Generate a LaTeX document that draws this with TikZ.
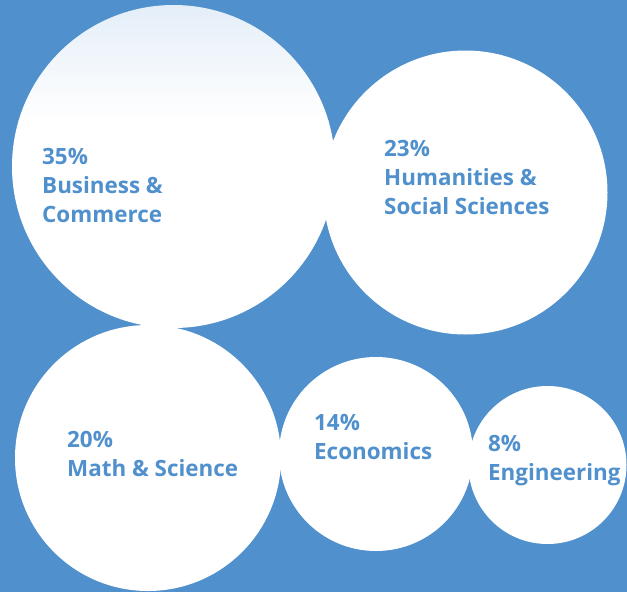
\documentclass[tikz,border=0pt]{standalone}
\usepackage{fontspec}
\setmainfont{Open Sans}[Ligatures=NoCommon]
\definecolor{bg}{RGB}{80,144,204}
\definecolor{txt}{RGB}{80,144,204}
\definecolor{topshade}{RGB}{228,238,248}
\begin{document}
\begin{tikzpicture}[x=1pt,y=-1pt,
  bubble/.style={fill=white,draw=none},
  label/.style={anchor=base west,align=left,inner sep=0pt,text=txt,
    font=\fontsize{22.4}{29}\selectfont\bfseries}]
\fill[bg] (0,0) rectangle (627,592);
\useasboundingbox (0,0) rectangle (627,592);
% circles
\begin{scope}
  \clip (173.5,166.5) circle (161.5);
  \shade[top color=topshade,bottom color=white] (0,5) rectangle (340,120);
  \fill[white] (0,120) rectangle (340,330);
\end{scope}
\fill[bubble] (465.5,192.5) circle (142);
\fill[bubble] (148,458) circle (133);
\fill[bubble] (376,454) circle (97);
\fill[bubble] (547.5,465) circle (79);
% labels (anchor = baseline of last line)
\node[label] (bus) at (42,222) {35\%\\Business \&\\Commerce};
\node[label] (hum) at (384,214) {23\%\\Humanities \&\\Social Sciences};
\node[label] (mat) at (67,476) {20\%\\Math \& Science};
\node[label] (eco) at (314,459) {14\%\\Economics};
\node[label] (eng) at (488,480) {8\%\\Engineering};
\end{tikzpicture}
\end{document}
